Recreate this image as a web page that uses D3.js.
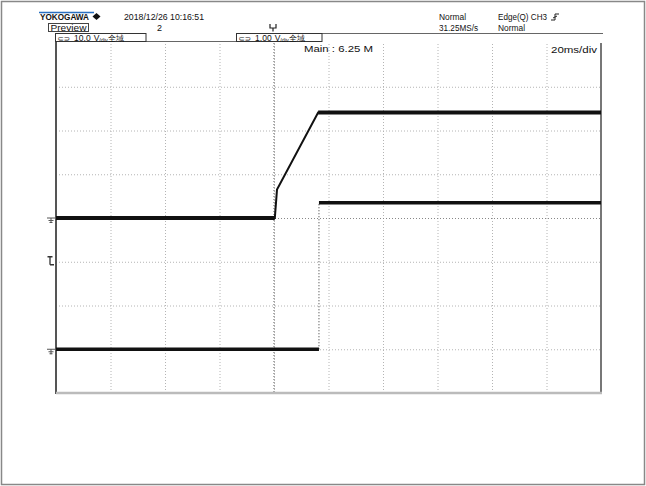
<!DOCTYPE html>
<html><head><meta charset="utf-8">
<script src="https://cdn.jsdelivr.net/npm/d3@7"></script>
<style>
html,body{margin:0;padding:0;background:#fff;}
svg{display:block;}
text{font-family:"Liberation Sans","DejaVu Sans",Arial,sans-serif;fill:#111;}
</style></head>
<body>
<svg id="c" width="646" height="486"></svg>
<script>
// ---- data ----
const timeDomain = [0, 200];            // ms, 20 ms/div, 10 div
const timeGrid = [20, 40, 60, 80, 100, 120, 140, 160, 180];
const divDomain = [-4, 4];               // vertical divisions
const divGrid = [-3, -2, -1, 0, 1, 2, 3];
const triggerTime = 80;                  // ms
// CH1 : 10.0 V/div, ground at 0 div
const ch1Time = [0, 80.3, 81.1, 96.2, 200];
const ch1Volt = [0, 0, 6.5, 24.1, 24.1];
// CH2 : 1.00 V/div, ground at -3 div
const ch2Time = [0, 96.5, 96.5, 200];
const ch2Volt = [0, 0, 3.35, 3.35];
const ch1Scale = 10, ch1Offset = 0;
const ch2Scale = 1, ch2Offset = -3;
const triggerLevelDiv = -1;

const svg = d3.select("#c");
const L = 56, R = 601, T = 43, B = 393;
const x = d3.scaleLinear().domain(timeDomain).range([L, R]);
const y = d3.scaleLinear().domain(divDomain).range([B, T]);

// outer frame
svg.append("rect").attr("x", 1.5).attr("y", 1.5).attr("width", 643).attr("height", 483)
  .attr("fill", "none").attr("stroke", "#888").attr("stroke-width", 1.5);

// grid via axes
const gx = svg.append("g").attr("transform", `translate(0,${B})`)
  .call(d3.axisBottom(x).tickValues(timeGrid).tickSize(-(B - T)).tickFormat(""));
gx.select(".domain").remove();
gx.selectAll(".tick line").attr("stroke", "#b4b4b4").attr("stroke-dasharray", "1,2");
const gy = svg.append("g").attr("transform", `translate(${L},0)`)
  .call(d3.axisLeft(y).tickValues(divGrid).tickSize(-(R - L)).tickFormat(""));
gy.select(".domain").remove();
gy.selectAll(".tick line").attr("stroke", "#b4b4b4").attr("stroke-dasharray", "1,2");
gy.selectAll(".tick").filter(d => d === 0).select("line").attr("stroke", "#888");

// trigger position line
svg.append("line").attr("x1", x(triggerTime)).attr("x2", x(triggerTime))
  .attr("y1", T).attr("y2", B).attr("stroke", "#555").attr("stroke-dasharray", "1,2");

// plot frame
svg.append("line").attr("x1", L).attr("x2", L).attr("y1", T - 1).attr("y2", B + 1)
  .attr("stroke", "#555").attr("stroke-width", 2);
svg.append("line").attr("x1", R).attr("x2", R).attr("y1", T).attr("y2", B + 1)
  .attr("stroke", "#777").attr("stroke-width", 2);
svg.append("line").attr("x1", L).attr("x2", R + 1).attr("y1", B).attr("y2", B)
  .attr("stroke", "#bbb").attr("stroke-width", 2.5);

// traces
const ch1 = ch1Time.map((t, i) => [t, ch1Volt[i] / ch1Scale + ch1Offset]);
const ch2 = ch2Time.map((t, i) => [t, ch2Volt[i] / ch2Scale + ch2Offset]);
const line = d3.line().x(d => x(d[0])).y(d => y(d[1]));
svg.append("path").attr("d", line(ch1)).attr("fill", "none").attr("stroke", "#111").attr("stroke-width", 2);
function flats(arr) {
  const out = [];
  for (let i = 0; i < arr.length - 1; i++) if (arr[i][1] === arr[i + 1][1]) out.push([arr[i], arr[i + 1]]);
  return out;
}
function verts(arr) {
  const out = [];
  for (let i = 0; i < arr.length - 1; i++) if (arr[i][0] === arr[i + 1][0]) out.push([arr[i], arr[i + 1]]);
  return out;
}
flats(ch1).forEach(s => svg.append("path").attr("d", line(s)).attr("stroke", "#111").attr("stroke-width", 4).attr("fill", "none"));
verts(ch2).forEach(s => svg.append("path").attr("d", line(s)).attr("stroke", "#333").attr("stroke-width", 1).attr("stroke-dasharray", "1,2").attr("fill", "none"));
flats(ch2).forEach(s => svg.append("path").attr("d", line(s)).attr("stroke", "#111").attr("stroke-width", 3.5).attr("fill", "none"));

// left markers: ground symbols
[ch1Offset, ch2Offset].forEach(o => {
  const yy = y(o);
  svg.append("path").attr("d", `M47,${yy}H55M51,${yy}V${yy + 5}M48.5,${yy + 2.5}H53.5M49.5,${yy + 4.5}H52.5`)
    .attr("stroke", "#555").attr("stroke-width", 1).attr("fill", "none");
});
// trigger level marker
{
  const yy = y(triggerLevelDiv);
  svg.append("path").attr("d", `M47.5,${yy - 5}H52.5M50,${yy - 5}V${yy + 3}M50,${yy + 3}H54`)
    .attr("stroke", "#333").attr("stroke-width", 1.3).attr("fill", "none");
}

// header
function txt(s, xx, yy, size, w, opts = {}) {
  const t = svg.append("text").attr("x", xx).attr("y", yy).attr("font-size", size).text(s);
  if (w) t.attr("textLength", w).attr("lengthAdjust", "spacingAndGlyphs");
  if (opts.bold) t.attr("font-weight", "bold");
  if (opts.anchor) t.attr("text-anchor", opts.anchor);
  return t;
}
svg.append("line").attr("x1", 39).attr("x2", 94).attr("y1", 12.5).attr("y2", 12.5).attr("stroke", "#2a6fc0").attr("stroke-width", 1.5);
txt("YOKOGAWA", 40, 20, 9, 49, { bold: true });
svg.append("path").attr("d", "M96.5,13L100.5,16.5L96.5,20L92.5,16.5Z").attr("fill", "#111");
txt("2018/12/26 10:16:51", 124, 19.5, 8.5, 80);
svg.append("rect").attr("x", 48.5).attr("y", 23.5).attr("width", 40).attr("height", 8).attr("fill", "none").attr("stroke", "#444");
txt("Preview", 50.5, 30.5, 8.5, 36);
txt("2", 157, 30.5, 8.5, 5);
svg.append("path").attr("d", "M270,24V28H276V24M273,28V31.5").attr("stroke", "#222").attr("stroke-width", 1.2).attr("fill", "none");
txt("Normal", 439, 19.5, 8.5, 27);
txt("31.25MS/s", 439, 30.5, 8.5, 39);
txt("Edge(Q) CH3", 498, 19.5, 8.5, 49);
svg.append("path").attr("d", "M551,20H555V14H559M553,18L557,16").attr("stroke", "#222").attr("stroke-width", 1).attr("fill", "none");
txt("Normal", 498, 30.5, 8.5, 27);

// channel boxes
svg.append("line").attr("x1", 322).attr("x2", 603).attr("y1", 33.5).attr("y2", 33.5).attr("stroke", "#666");
svg.append("line").attr("x1", 146).attr("x2", 236).attr("y1", 41.5).attr("y2", 41.5).attr("stroke", "#666");
[[55.5, 90.5, "10.0"], [236.5, 85.5, "1.00"]].forEach(([bx, bw, v]) => {
  svg.append("rect").attr("x", bx).attr("y", 33.5).attr("width", bw).attr("height", 8).attr("fill", "#fff").attr("stroke", "#333");
  const t = svg.append("text").attr("x", bx + 2).attr("y", 41).attr("font-size", 8.5);
  t.append("tspan").attr("font-size", 7.5).text("⊂⊃");
  t.append("tspan").attr("dx", 4).text(v);
  t.append("tspan").attr("dx", 3).text("V");
  t.append("tspan").attr("font-size", 5.5).attr("dy", 0.5).text("/div");
  t.append("tspan").attr("font-size", 7.5).attr("dy", -0.5).text("全域");
});

txt("Main : 6.25 M", 304, 52, 8.5, 69);
txt("20ms/div", 597, 52.5, 9, 46, { anchor: "end" });
</script>
</body></html>
